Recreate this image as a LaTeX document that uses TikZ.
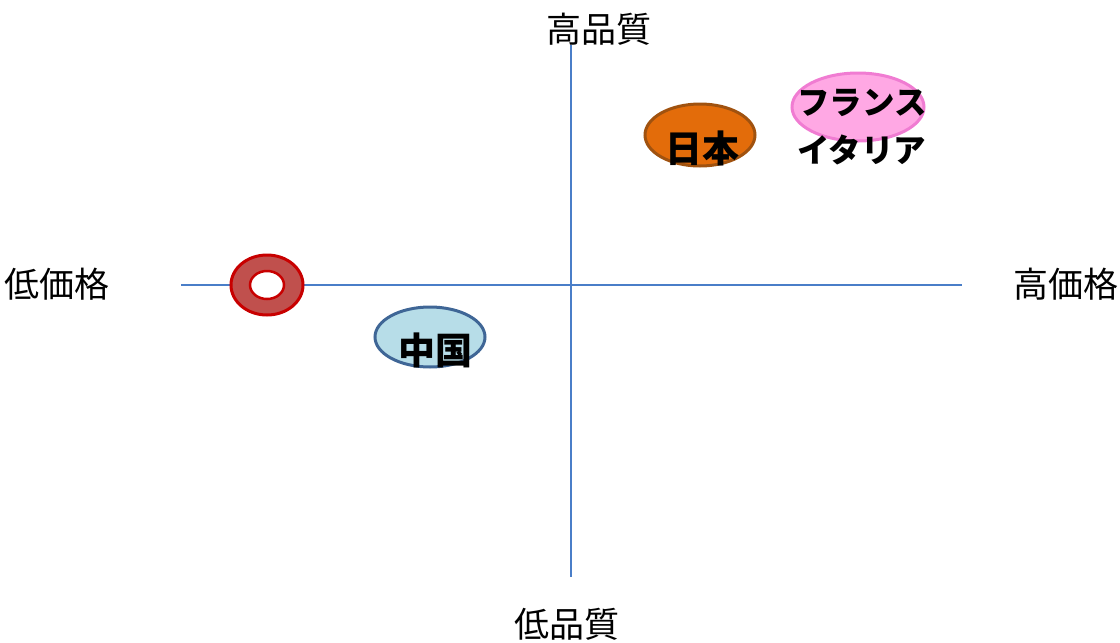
\documentclass[tikz,border=0pt]{standalone}
\usepackage{fontspec}
\setmainfont{Noto Sans CJK JP}
\usetikzlibrary{shapes.geometric}
\definecolor{axisblue}{HTML}{4A7EC8}
\definecolor{jpfill}{HTML}{E36C0A}
\definecolor{jpline}{HTML}{A0520F}
\definecolor{frfill}{HTML}{FFA8E4}
\definecolor{frline}{HTML}{F07CD2}
\definecolor{cnfill}{HTML}{B7DDE8}
\definecolor{cnline}{HTML}{3F6696}
\definecolor{ringfill}{HTML}{C0504D}
\definecolor{ringline}{HTML}{C80000}
\tikzset{
  axisline/.style={draw=axisblue, line width=1.3pt},
  axislabel/.style={font=\fontsize{35}{40}\selectfont, inner sep=0pt},
  blob/.style={ellipse, inner sep=0pt, line width=3pt},
  blobtext/.style={font=\fontsize{37}{42}\selectfont\bfseries, inner sep=0pt},
  katatext/.style={font=\fontsize{32.5}{38}\selectfont\bfseries, inner sep=0pt},
}
\begin{document}
\begin{tikzpicture}[x=1pt,y=-1pt]
\useasboundingbox (0,0) rectangle (1120,643);
% axes
\coordinate (top) at (571,45);
\coordinate (bottom) at (571,577);
\coordinate (left) at (181,285);
\coordinate (right) at (962,285);
\draw[axisline] (top) -- (bottom);
\draw[axisline] (left) -- (right);
% axis labels
\node[axislabel] (hq) at (599,29) {高品質};
\node[axislabel] (lq) at (567,624) {低品質};
\node[axislabel] (lp) at (57,284) {低価格};
\node[axislabel] (hp) at (1066,284) {高価格};
% ellipses
\node[blob, fill=jpfill, draw=jpline, minimum width=110pt, minimum height=62pt] (jp) at (700,135) {};
\node[blob, fill=frfill, draw=frline, minimum width=132pt, minimum height=68pt] (fr) at (858,107) {};
\node[blob, fill=cnfill, draw=cnline, minimum width=110pt, minimum height=60pt] (cn) at (430,337) {};
\node[blob, fill=ringfill, draw=ringline, minimum width=72pt, minimum height=60pt] (ring) at (267,285) {};
\node[blob, fill=white, draw=ringline, line width=2.5pt, minimum width=34pt, minimum height=28pt] (ringhole) at (267,285) {};
% texts
\node[blobtext] (jptext) at (702,148) {日本};
\node[katatext] (frtext) at (862,103) {フランス};
\node[katatext] (ittext) at (862,150) {イタリア};
\node[blobtext] (cntext) at (435,350) {中国};
\end{tikzpicture}
\end{document}
